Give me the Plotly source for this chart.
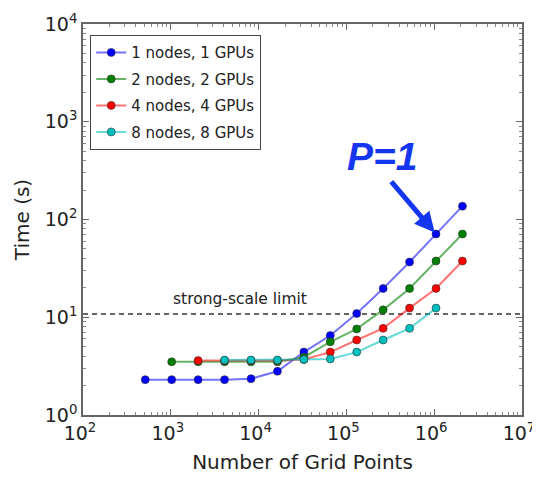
import plotly.graph_objects as go

# ---- data ----
grid_points = [512, 1024, 2048, 4096, 8192, 16384, 32768, 65536,
               131072, 262144, 524288, 1048576, 2097152]

series_names = ["1 nodes, 1 GPUs", "2 nodes, 2 GPUs", "4 nodes, 4 GPUs", "8 nodes, 8 GPUs"]

x_1node = grid_points[0:13]
t_1node = [2.3, 2.3, 2.3, 2.3, 2.35, 2.8, 4.4, 6.5, 10.9, 19.7, 36.7, 71, 137]

x_2node = grid_points[1:13]
t_2node = [3.5, 3.5, 3.5, 3.5, 3.5, 3.9, 5.6, 7.6, 11.9, 19.7, 37.6, 71]

x_4node = grid_points[2:13]
t_4node = [3.6, 3.6, 3.6, 3.6, 3.7, 4.4, 5.85, 7.7, 12.4, 19.7, 37.6]

x_8node = grid_points[3:12]
t_8node = [3.65, 3.65, 3.65, 3.7, 3.75, 4.4, 5.85, 7.7, 12.4]

strong_scale_limit = 10.8
x_exponents = [2, 3, 4, 5, 6, 7]
y_exponents = [0, 1, 2, 3, 4]

# ---- styles ----
marker_colors = ["#0000ff", "#008000", "#ff0000", "#00bfbf"]
line_colors = ["rgba(0,0,255,0.55)", "rgba(0,128,0,0.6)", "rgba(255,0,0,0.55)", "rgba(0,191,191,0.6)"]
text_color = "#222222"
font_family = "DejaVu Sans"

fig = go.Figure()

# dashed strong-scale limit line
fig.add_trace(go.Scatter(
    x=[10 ** x_exponents[0], 10 ** x_exponents[-1]],
    y=[strong_scale_limit, strong_scale_limit],
    mode="lines", line=dict(color="#333333", width=1.3, dash="5px,4px"),
    showlegend=False, hoverinfo="skip"))

all_x = [x_1node, x_2node, x_4node, x_8node]
all_t = [t_1node, t_2node, t_4node, t_8node]
for i in range(4):
    fig.add_trace(go.Scatter(
        x=all_x[i], y=all_t[i], mode="lines+markers", name=series_names[i],
        legendgroup=f"g{i}",
        line=dict(color=line_colors[i], width=2),
        marker=dict(color=marker_colors[i], size=8,
                    line=dict(color="#333333", width=0.6))))


def log_axis(exps):
    minor_vals = [m * 10 ** e for e in exps[:-1] for m in range(2, 10)]
    return dict(
        type="log", range=[exps[0], exps[-1]],
        tickvals=[10 ** e for e in exps],
        ticktext=[f"10<sup>{e}</sup>" for e in exps],
        showgrid=False, zeroline=False, automargin=False,
        showline=True, linecolor="#666666", linewidth=1.5, mirror="allticks",
        ticks="inside", ticklen=6, tickcolor="#666666",
        minor=dict(tickvals=minor_vals, ticks="inside", ticklen=3,
                   tickcolor="#888888", showgrid=False),
        tickfont=dict(family=font_family, size=19, color=text_color),
    )


fig.update_xaxes(**log_axis(x_exponents), ticklabelshift=-3,
                 title=dict(text="Number of Grid Points",
                            font=dict(family=font_family, size=20, color=text_color),
                            standoff=12))
fig.update_yaxes(**log_axis(y_exponents),
                 title=dict(text="Time (s)",
                            font=dict(family=font_family, size=20, color=text_color),
                            standoff=10))

# strong-scale limit label
fig.add_annotation(x=3.0, y=1.07, xref="x", yref="y", text="strong-scale limit",
                   showarrow=False, xanchor="left", yanchor="bottom",
                   font=dict(family=font_family, size=15.5, color=text_color))

# P=1 arrow
fig.add_annotation(x=6.0206, y=1.851, xref="x", yref="y", text="",
                   showarrow=True, arrowhead=2, arrowsize=0.8, arrowwidth=5,
                   arrowcolor="#1436f0", ax=-46, ay=-54, standoff=2)
fig.add_annotation(x=5.40, y=2.64, xref="x", yref="y", text="<b><i>P=1</i></b>",
                   showarrow=False, xanchor="center", yanchor="middle",
                   font=dict(family="Liberation Sans", size=39, color="#1436f0"))

# page body adds an 8px offset, so margins are shifted to keep the plot box in place
fig.update_layout(
    width=540, height=472,
    margin=dict(l=75, r=26, t=16, b=65),
    paper_bgcolor="white", plot_bgcolor="white",
    legend=dict(x=0.016, y=0.972, xanchor="left", yanchor="top",
                bordercolor="#444444", borderwidth=1.2, bgcolor="white",
                font=dict(family=font_family, size=15, color=text_color),
                tracegroupgap=4, itemwidth=30),
)

fig.write_html("out.html")
